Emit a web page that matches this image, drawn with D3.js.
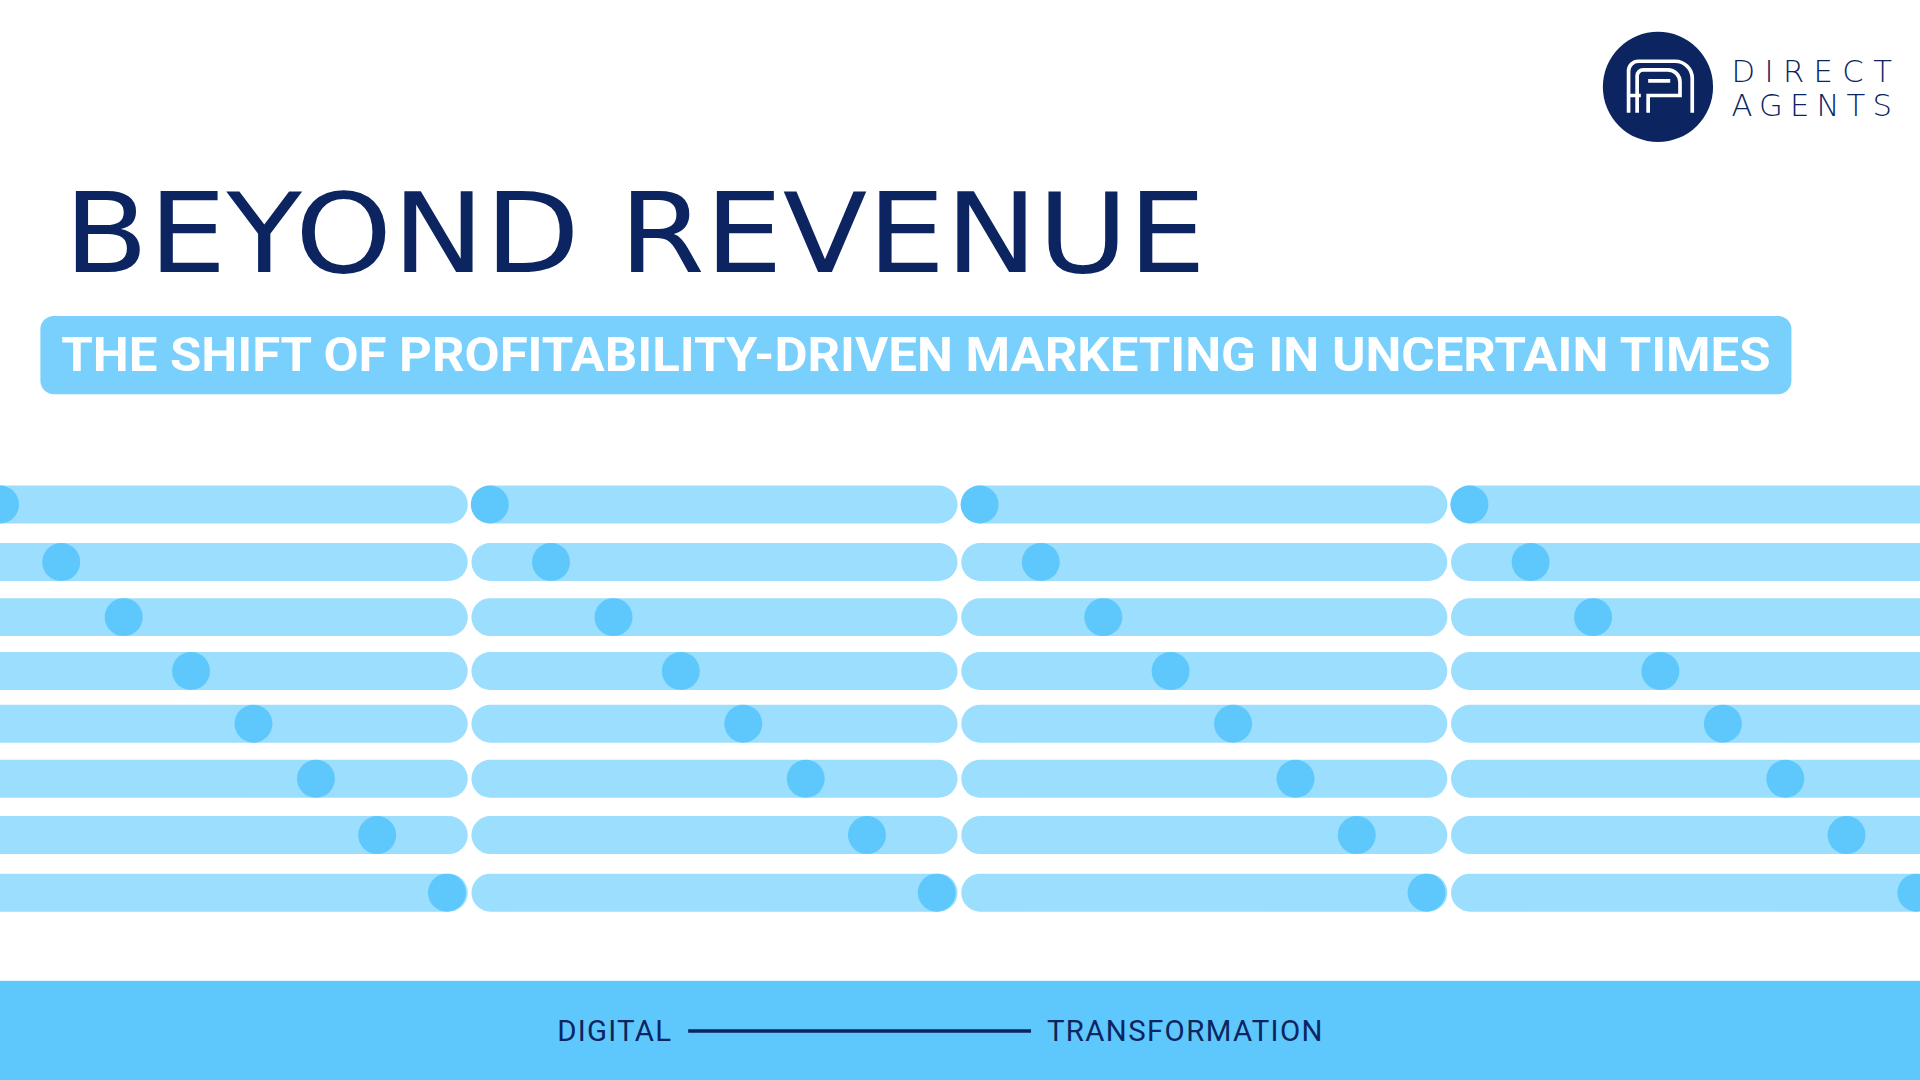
<!DOCTYPE html>
<html><head><meta charset="utf-8">
<script src="https://cdn.jsdelivr.net/npm/d3@7"></script>
<style>html,body{margin:0;padding:0;background:#fff;overflow:hidden}</style>
</head><body>
<svg id="chart"></svg>
<script>
// design coordinates are 1568 x 882, scaled up to the window
const columns = [0, 1, 2, 3];
const rows = [0, 1, 2, 3, 4, 5, 6, 7];
const rowY = [412, 459, 504, 548, 591, 636, 682, 729];
const dotOffsets = [0, 50, 101, 156, 207, 258, 308, 365];
const title = "BEYOND REVENUE";
const subtitle = "THE SHIFT OF PROFITABILITY-DRIVEN MARKETING IN UNCERTAIN TIMES";
const footer = ["DIGITAL", "TRANSFORMATION"];

const W = 1568, H = 882;
const navy = "#0c2560";

const svg = d3.select("#chart")
  .attr("width", 1920).attr("height", 1080)
  .attr("viewBox", `0 0 ${W} ${H}`);

const x = d3.scaleLinear().domain([0, 400]).range([0, 400]);

const barH = 31, dotR = 15.5;

// bars
columns.forEach(c => {
  rows.forEach(r => {
    svg.append("rect")
      .attr("x", x(c * 400 - 15))
      .attr("y", rowY[r] - barH / 2)
      .attr("width", 397)
      .attr("height", barH)
      .attr("rx", barH / 2)
      .attr("fill", "#9bdefd");
    svg.append("circle")
      .attr("cx", x(c * 400 + dotOffsets[r]))
      .attr("cy", rowY[r])
      .attr("r", dotR)
      .attr("fill", "#5ec8fd");
  });
});

// logo
svg.append("circle").attr("cx", 1354).attr("cy", 71).attr("r", 45).attr("fill", navy);
const lg = svg.append("g").attr("fill", "none").attr("stroke", "#fff").attr("stroke-width", 3);
lg.append("path").attr("d", "M1330,92 V58 a8,8 0 0 1 8,-8 H1368 a14,14 0 0 1 14,14 V92");
lg.append("path").attr("d", "M1337,92 V62 a5,5 0 0 1 5,-5 H1362 a10,10 0 0 1 10,10 V78 H1346 V92");
lg.append("path").attr("d", "M1346,66 H1364 M1330,78 H1340");
svg.append("text").attr("x", 1414).attr("y", 67).attr("textLength", 131)
  .attr("font-family", "DejaVu Sans").attr("font-weight", 200).attr("font-size", 25)
  .attr("fill", navy).text("DIRECT");
svg.append("text").attr("x", 1414).attr("y", 95).attr("textLength", 131)
  .attr("font-family", "DejaVu Sans").attr("font-weight", 200).attr("font-size", 25)
  .attr("fill", navy).text("AGENTS");

// title
svg.append("text").attr("x", 52).attr("y", 222)
  .attr("textLength", 933).attr("lengthAdjust", "spacingAndGlyphs")
  .attr("font-family", "DejaVu Sans").attr("font-size", 90)
  .attr("fill", navy).text(title);

// subtitle pill
svg.append("rect").attr("x", 33).attr("y", 258).attr("width", 1430).attr("height", 64)
  .attr("rx", 11).attr("fill", "#79d0fc");
svg.append("text").attr("x", 50).attr("y", 303)
  .attr("textLength", 1396).attr("lengthAdjust", "spacingAndGlyphs")
  .attr("font-family", "Roboto").attr("font-weight", 700).attr("font-size", 39)
  .attr("fill", "#fff").text(subtitle);

// footer band
svg.append("rect").attr("x", 0).attr("y", 801).attr("width", W).attr("height", H - 801)
  .attr("fill", "#5ec8fd");
svg.append("text").attr("x", 455).attr("y", 850).attr("textLength", 93)
  .attr("font-family", "Roboto").attr("font-size", 24).attr("fill", navy).text(footer[0]);
svg.append("line").attr("x1", 562).attr("x2", 842).attr("y1", 842).attr("y2", 842)
  .attr("stroke", navy).attr("stroke-width", 3);
svg.append("text").attr("x", 855).attr("y", 850).attr("textLength", 225)
  .attr("font-family", "Roboto").attr("font-size", 24).attr("fill", navy).text(footer[1]);
</script>
</body></html>
